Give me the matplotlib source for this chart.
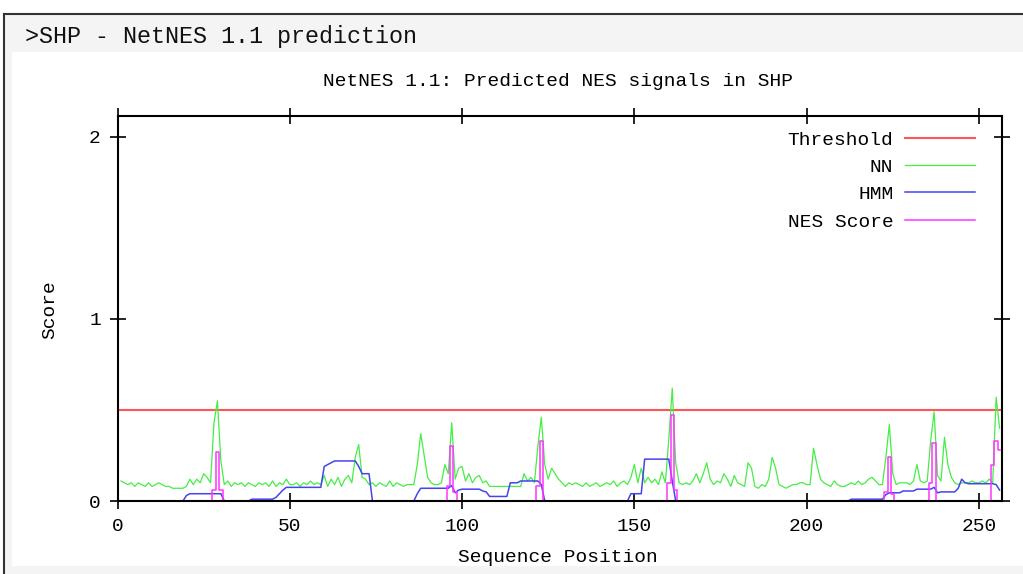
import numpy as np
import matplotlib

matplotlib.use('Agg')

import matplotlib.pyplot as plt
from matplotlib.patches import Rectangle
from matplotlib.lines import Line2D

W, H = 1023, 574

header = ">SHP - NetNES 1.1 prediction"
title = "NetNES 1.1: Predicted NES signals in SHP"
x_label = "Sequence Position"
y_label = "Score"
series_names = ["Threshold", "NN", "HMM", "NES Score"]
series_colors = ["#ff5555", "#44ee44", "#4444ee", "#ff33ff"]

x_ticks = [0, 50, 100, 150, 200, 250]
y_ticks = [0, 1, 2]
threshold = 0.5

# NN score, positions 1..256
nn = [0.11, 0.10, 0.09, 0.10, 0.08, 0.10, 0.09, 0.08, 0.10, 0.08,
      0.09, 0.10, 0.09, 0.08, 0.08, 0.07, 0.07, 0.07, 0.07, 0.08,
      0.12, 0.09, 0.12, 0.10, 0.15, 0.13, 0.10, 0.43, 0.55, 0.22,
      0.09, 0.11, 0.08, 0.10, 0.09, 0.10, 0.08, 0.10, 0.09, 0.08,
      0.10, 0.09, 0.10, 0.08, 0.11, 0.08, 0.10, 0.09, 0.12, 0.09,
      0.09, 0.10, 0.08, 0.10, 0.09, 0.11, 0.09, 0.10, 0.09, 0.14,
      0.08, 0.12, 0.09, 0.13, 0.08, 0.12, 0.14, 0.10, 0.24, 0.31,
      0.13, 0.12, 0.09, 0.10, 0.08, 0.10, 0.09, 0.08, 0.11, 0.08,
      0.10, 0.09, 0.08, 0.09, 0.09, 0.09, 0.20, 0.37, 0.25, 0.13,
      0.10, 0.09, 0.09, 0.10, 0.20, 0.15, 0.43, 0.12, 0.18, 0.19,
      0.11, 0.15, 0.10, 0.13, 0.14, 0.10, 0.11, 0.08, 0.08, 0.08,
      0.08, 0.08, 0.08, 0.08, 0.08, 0.08, 0.08, 0.15, 0.11, 0.13,
      0.10, 0.30, 0.46, 0.20, 0.12, 0.18, 0.15, 0.12, 0.10, 0.08,
      0.10, 0.09, 0.10, 0.09, 0.08, 0.10, 0.08, 0.09, 0.10, 0.08,
      0.09, 0.10, 0.09, 0.11, 0.08, 0.10, 0.11, 0.09, 0.13, 0.20,
      0.10, 0.18, 0.10, 0.13, 0.10, 0.12, 0.09, 0.16, 0.10, 0.34,
      0.62, 0.21, 0.10, 0.09, 0.10, 0.09, 0.11, 0.15, 0.10, 0.15,
      0.21, 0.12, 0.09, 0.11, 0.10, 0.15, 0.12, 0.08, 0.14, 0.10,
      0.09, 0.08, 0.21, 0.18, 0.08, 0.07, 0.09, 0.08, 0.12, 0.24,
      0.18, 0.09, 0.08, 0.07, 0.08, 0.09, 0.09, 0.10, 0.10, 0.09,
      0.09, 0.29, 0.20, 0.12, 0.10, 0.09, 0.08, 0.11, 0.09, 0.08,
      0.08, 0.09, 0.10, 0.09, 0.11, 0.09, 0.10, 0.12, 0.13, 0.11,
      0.09, 0.09, 0.24, 0.42, 0.15, 0.09, 0.10, 0.10, 0.10, 0.09,
      0.11, 0.20, 0.11, 0.10, 0.11, 0.33, 0.49, 0.14, 0.11, 0.35,
      0.20, 0.13, 0.10, 0.09, 0.10, 0.10, 0.10, 0.11, 0.10, 0.10,
      0.11, 0.10, 0.12, 0.10, 0.57, 0.40]

# HMM score, positions 1..256
hmm = [0, 0, 0, 0, 0, 0, 0, 0, 0, 0,
       0, 0, 0, 0, 0, 0, 0, 0, 0, 0.03,
       0.04, 0.04, 0.04, 0.04, 0.04, 0.04, 0.04, 0.04, 0.04, 0.04,
       0, 0, 0, 0, 0, 0, 0, 0, 0.01, 0.01,
       0.01, 0.01, 0.01, 0.01, 0.01, 0.02, 0.04, 0.06, 0.075, 0.075,
       0.075, 0.075, 0.075, 0.075, 0.075, 0.075, 0.075, 0.075, 0.075, 0.19,
       0.20, 0.21, 0.22, 0.22, 0.22, 0.22, 0.22, 0.22, 0.22, 0.19,
       0.15, 0.15, 0.15, 0, 0, 0, 0, 0, 0, 0,
       0, 0, 0, 0, 0, 0, 0.04, 0.07, 0.07, 0.07,
       0.07, 0.07, 0.07, 0.07, 0.07, 0.07, 0.085, 0.045, 0.06, 0.065,
       0.065, 0.065, 0.065, 0.065, 0.065, 0.055, 0.05, 0.025, 0.025, 0.025,
       0.025, 0.025, 0.025, 0.10, 0.10, 0.10, 0.11, 0.11, 0.11, 0.11,
       0.11, 0.11, 0.09, 0, 0, 0, 0, 0, 0, 0,
       0, 0, 0, 0, 0, 0, 0, 0, 0, 0,
       0, 0, 0, 0, 0, 0, 0, 0, 0.04, 0.04,
       0.04, 0.04, 0.23, 0.23, 0.23, 0.23, 0.23, 0.23, 0.23, 0.23,
       0.11, 0, 0, 0, 0, 0, 0, 0, 0, 0,
       0, 0, 0, 0, 0, 0, 0, 0, 0, 0,
       0, 0, 0, 0, 0, 0, 0, 0, 0, 0,
       0, 0, 0, 0, 0, 0, 0, 0, 0, 0,
       0, 0, 0, 0, 0, 0, 0, 0, 0, 0,
       0, 0, 0.01, 0.01, 0.01, 0.01, 0.01, 0.01, 0.01, 0.01,
       0.01, 0.01, 0.035, 0.045, 0.045, 0.045, 0.045, 0.055, 0.055, 0.055,
       0.055, 0.065, 0.065, 0.065, 0.065, 0.065, 0.075, 0.045, 0.05, 0.05,
       0.05, 0.05, 0.05, 0.07, 0.12, 0.10, 0.095, 0.095, 0.095, 0.095,
       0.095, 0.095, 0.095, 0.095, 0.09, 0.06]

# NES score is zero except near the predicted signals
nes_pos = [28, 29, 30, 96, 97, 98, 122, 123, 160, 161, 162, 223, 224, 225, 236, 237, 254, 255, 256]
nes_val = [0.06, 0.27, 0.06, 0.08, 0.30, 0.05, 0.08, 0.33, 0.10, 0.47, 0.06, 0.05, 0.24, 0.04, 0.10, 0.32, 0.20, 0.33, 0.28]

pos = np.arange(1, len(nn) + 1)
nes = np.zeros(len(nn))
nes[np.array(nes_pos) - 1] = nes_val

plt.rcParams['font.family'] = ['Liberation Mono', 'DejaVu Sans Mono']


def fx(px):
    return px / W


def fy(py):
    return 1 - py / H


fig = plt.figure(figsize=(W / 100, H / 100), dpi=100)
fig.patch.set_facecolor('white')

# page frame, kept behind the axes
fig.add_artist(Rectangle((fx(4), 0), 1 - fx(4), fy(14), facecolor='#f4f4f4', edgecolor='none', zorder=-10))
fig.add_artist(Rectangle((fx(12), fy(566)), 1 - fx(12), fy(52) - fy(566), facecolor='white', edgecolor='none', zorder=-9))
fig.add_artist(Line2D([fx(4), 1], [fy(14), fy(14)], color='#333333', lw=1.5, zorder=-8))
fig.add_artist(Line2D([fx(4), fx(4)], [0, fy(14)], color='#333333', lw=1.5, zorder=-8))

fig.text(fx(25), fy(37), header, fontsize=16.8, va='center', ha='left', color='#111111')
fig.text(fx(558), fy(81), title, fontsize=14, va='center', ha='center')

ax = fig.add_axes([fx(117.5), fy(501), fx(1002) - fx(117.5), fy(116) - fy(501)])
ax.set_facecolor('none')

ax.axhline(threshold, color=series_colors[0], lw=1.5, label=series_names[0])
ax.plot(pos, nn, color=series_colors[1], lw=0.9, label=series_names[1])
ax.plot(pos, hmm, color=series_colors[2], lw=1.1, label=series_names[2])
ax.plot(pos, nes, color=series_colors[3], lw=1.1, drawstyle='steps-mid', label=series_names[3])

ax.set_xlim(0, 256.7)
ax.set_ylim(0, 2.115)
ax.set_xticks(x_ticks)
ax.set_yticks(y_ticks)
ax.tick_params(direction='inout', length=12, width=1.2, labelsize=14,
               top=True, right=True, pad=6)
for s in ax.spines.values():
    s.set_linewidth(1.5)
    s.set_zorder(5)

ax.set_xlabel(x_label, fontsize=14, va='center')
ax.xaxis.set_label_coords(0.498, -0.1455)
ax.set_ylabel(y_label, fontsize=14, va='center')
ax.yaxis.set_label_coords(-0.0763, 0.496)

ax.legend(loc='upper right', bbox_to_anchor=(fx(975), fy(131)), bbox_transform=fig.transFigure,
          frameon=False, markerfirst=False, fontsize=14, handlelength=3.6,
          handletextpad=0.6, labelspacing=0.5, borderpad=0, borderaxespad=0)

fig.savefig('out.png', dpi=100)
